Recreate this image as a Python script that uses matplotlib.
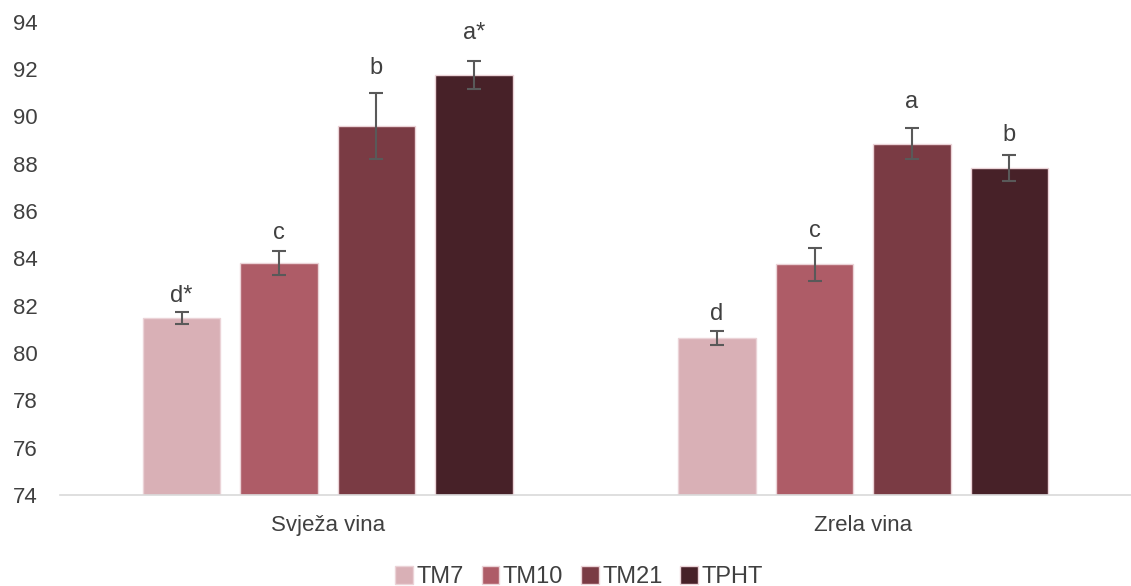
import numpy as np
import matplotlib.pyplot as plt
from matplotlib.patches import Patch

plt.rcParams['font.family'] = ['Liberation Sans', 'DejaVu Sans']

categories = ["Svježa vina", "Zrela vina"]
series = ["TM7", "TM10", "TM21", "TPHT"]
means = {
    "TM7": [81.5, 80.65],
    "TM10": [83.8, 83.75],
    "TM21": [89.6, 88.85],
    "TPHT": [91.75, 87.8],
}
errors = {
    "TM7": [0.25, 0.3],
    "TM10": [0.5, 0.7],
    "TM21": [1.4, 0.65],
    "TPHT": [0.6, 0.55],
}
letters = {
    "TM7": ["d*", "d"],
    "TM10": ["c", "c"],
    "TM21": ["b", "a"],
    "TPHT": ["a*", "b"],
}
# baseline heights of the significance letters
letter_y = {
    "TM7": [82.15, 81.4],
    "TM10": [84.8, 84.9],
    "TM21": [91.8, 90.35],
    "TPHT": [93.25, 88.95],
}
colors = ["#D9B0B6", "#AE5C67", "#7A3B44", "#472128"]
text_color = "#404040"

fig = plt.figure(figsize=(11.31, 5.86), dpi=100)
ax = fig.add_axes([0.053, 0.155, 0.947, 0.808])

x = np.arange(len(categories))
width = 0.145
step = 0.182

for i, name in enumerate(series):
    pos = x + (i - 1.5) * step
    ax.bar(pos, np.array(means[name]) - 74, width, bottom=74, color=colors[i],
           edgecolor="#EBD3D7", linewidth=1.0, zorder=2)
    ax.errorbar(pos, means[name], yerr=errors[name], fmt="none",
                ecolor="#595959", elinewidth=1.5, capsize=5, capthick=1.5, zorder=3)
    for p, ly, lab in zip(pos, letter_y[name], letters[name]):
        ax.text(p, ly, lab, ha="center", va="baseline",
                fontsize=17, color=text_color)

ax.set_ylim(74, 94)
ax.set_yticks(np.arange(74, 95, 2))
ax.set_xlim(-0.5, 1.5)
ax.set_xticks(x)
ax.set_xticklabels(categories)
ax.tick_params(axis="both", length=0, labelsize=16, labelcolor=text_color)
ax.tick_params(axis="x", pad=14)
ax.tick_params(axis="y", pad=16)
for side in ["top", "right", "left"]:
    ax.spines[side].set_visible(False)
ax.spines["bottom"].set_color("#D9D9D9")
ax.spines["bottom"].set_linewidth(1.2)

handles = [Patch(facecolor=c, edgecolor="#EBD3D7") for c in colors]
fig.legend(handles, series, loc="lower center", bbox_to_anchor=(0.512, -0.04),
           ncol=4, frameon=False, fontsize=17, handlelength=0.75, handleheight=0.75,
           handletextpad=0.15, columnspacing=0.75, labelcolor=text_color)

fig.savefig("out.png", dpi=100)
